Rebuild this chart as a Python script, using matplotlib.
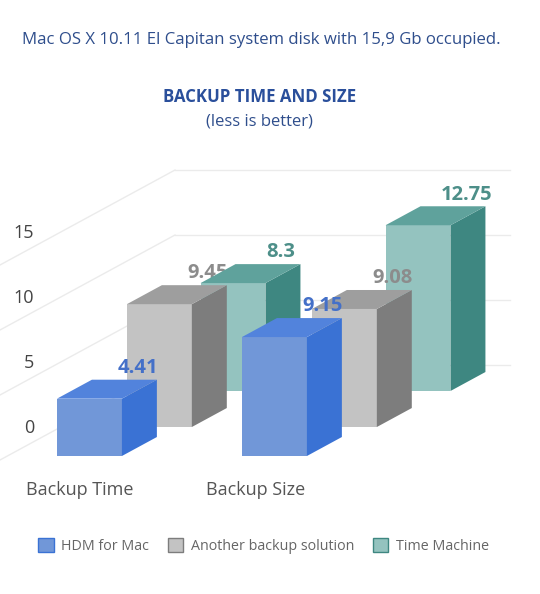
import matplotlib
matplotlib.use("Agg")

import matplotlib.pyplot as plt
from matplotlib.patches import Polygon, Patch

plt.rcParams["font.family"] = ["Open Sans", "DejaVu Sans"]

categories = ["Backup Time", "Backup Size"]
series_names = ["HDM for Mac", "Another backup solution", "Time Machine"]
hdm = [4.41, 9.15]
another = [9.45, 9.08]
time_machine = [8.3, 12.75]
ticks = [0, 5, 10, 15]

# front, side, top, label colour per series
colors = [
    ("#7197d8", "#3a72d4", "#5283dc", "#4470c8"),
    ("#c3c3c3", "#7d7d7d", "#9e9e9e", "#8c8c8c"),
    ("#94c3bf", "#3e8781", "#5fa29c", "#4d8f89"),
]

# fake 3d geometry (x in category units, y in value units)
BAR_W = 0.351
DX, DY = 0.189, 1.46
SER_DX = [0.0, 0.378, 0.776]
SER_DY = [0.0, 2.23, 5.0]
WALL_X0, WALL_X1, WALL_Y = 0.638, 2.449, 7.0
XMIN, XMAX = -0.308, 2.611

fig = plt.figure(figsize=(5.4, 5.94), dpi=100)
ax = fig.add_axes([0, 0, 1, 1])
ax.set_xlim(XMIN, XMAX)
ax.set_ylim(-10.615, 35.077)
ax.axis("off")

# back wall + side wall grid
grid_c = "#ebebeb"
for t in ticks:
    y = WALL_Y + t
    ax.plot([WALL_X0, WALL_X1], [y, y], color=grid_c, lw=1, zorder=0)
    y_left = y - DY / DX * (WALL_X0 - XMIN)
    ax.plot([XMIN, WALL_X0], [y_left, y], color=grid_c, lw=1, zorder=0)
    ax.text(-0.124, 2.19 + t, str(t), ha="right", va="center",
            fontsize=13, color="#444444")

# zorders: teal bars behind gray bars; first gray label is tucked under the teal bar
bar_z = [5, 3, 1]
label_z = [[6, 6], [0.5, 4], [4, 4]]

all_values = [hdm, another, time_machine]
for s in [2, 1, 0]:
    front, side, top, lab = colors[s]
    for i, v in enumerate(all_values[s]):
        x0 = i + SER_DX[s]
        b = SER_DY[s]
        ax.bar(x0, v, width=BAR_W, bottom=b, align="edge", color=front,
               linewidth=0, zorder=bar_z[s])
        xr = x0 + BAR_W
        ax.add_patch(Polygon([(xr, b), (xr + DX, b + DY), (xr + DX, b + DY + v), (xr, b + v)],
                             closed=True, facecolor=side, edgecolor="none", zorder=bar_z[s]))
        ax.add_patch(Polygon([(x0, b + v), (xr, b + v), (xr + DX, b + v + DY), (x0 + DX, b + v + DY)],
                             closed=True, facecolor=top, edgecolor="none", zorder=bar_z[s]))
        ax.text(xr + DX / 2 - 0.01, b + v + DY + 0.9, f"{v:g}", ha="center", va="center",
                fontsize=14.5, fontweight="bold", color=lab, zorder=label_z[s][i])

for i, c in enumerate(categories):
    ax.text(-0.17 + i * 0.973, -2.6, c, ha="left", va="center", fontsize=13, color="#555555")

fig.text(0.484, 0.9327, "Mac OS X 10.11 El Capitan system disk with 15,9 Gb occupied.",
         ha="center", va="center", fontsize=12.1, color="#2f4e8c")
fig.text(0.48, 0.8367, "BACKUP TIME AND SIZE", ha="center", va="center",
         fontsize=12.2, fontweight="bold", color="#2a4f9b")
fig.text(0.48, 0.796, "(less is better)", ha="center", va="center",
         fontsize=12, color="#2f4e8c")

handles = [Patch(facecolor=colors[k][0], edgecolor=colors[k][1], linewidth=1)
           for k in range(3)]
fig.legend(handles, series_names, loc="center", bbox_to_anchor=(0.488, 0.0815),
           ncol=3, frameon=False, fontsize=10.3, labelcolor="#666666",
           handlelength=1.1, handleheight=1.15, handletextpad=0.5, columnspacing=1.3)

fig.savefig("out.png", dpi=100)
